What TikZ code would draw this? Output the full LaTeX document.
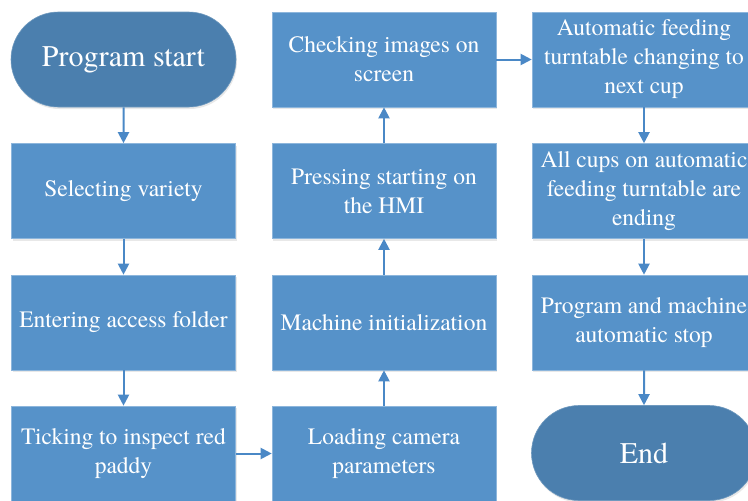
\documentclass[tikz,border=0pt]{standalone}
\usepackage{fontspec}
\setmainfont{TeX Gyre Termes}
\usetikzlibrary{arrows.meta,shapes.misc,shadows}
\definecolor{boxblue}{HTML}{5692C9}
\definecolor{termblue}{HTML}{4B7FAE}
\definecolor{linkblue}{HTML}{4A88C6}
\definecolor{edgeblue}{HTML}{8DB6DC}
\tikzset{
  stepbox/.style={rectangle, fill=boxblue, draw=edgeblue, line width=0.6pt,
    minimum width=224pt, minimum height=95pt, inner sep=0pt,
    text=white, align=center,
    font=\fontsize{23.5}{29}\selectfont,
    drop shadow={opacity=0.18, shadow xshift=1pt, shadow yshift=-2pt}},
  termbox/.style={rounded rectangle, fill=termblue, draw=termblue!80!white, line width=0.6pt,
    minimum width=225pt, minimum height=95pt, inner sep=0pt,
    text=white, align=center,
    font=\fontsize{30}{36}\selectfont,
    drop shadow={opacity=0.18, shadow xshift=1pt, shadow yshift=-2pt}},
  link/.style={draw=linkblue, line width=2pt,
    -{Triangle[width=11pt,length=11pt]}}
}
\begin{document}
\begin{tikzpicture}[x=1pt,y=-1pt]
\useasboundingbox (0,0) rectangle (748,501);
\node[termbox] (start) at (123.5,59.5) {Program start};
\node[stepbox] (sel)   at (123.5,191)   {Selecting variety};
\node[stepbox] (ent)   at (123.5,322.5) {Entering access folder};
\node[stepbox] (tick)  at (123.5,453.5) {Ticking to inspect red\\paddy};
\node[stepbox] (load)  at (384,453.5)   {Loading camera\\parameters};
\node[stepbox] (init)  at (384,322.5)   {Machine initialization};
\node[stepbox] (press) at (384,191)     {Pressing starting on\\the HMI};
\node[stepbox] (check) at (384,59.5)    {Checking images on\\screen};
\node[stepbox] (auto)  at (644,59.5)    {Automatic feeding\\turntable changing to\\next cup};
\node[stepbox] (all)   at (644,191)     {All cups on automatic\\feeding turntable are\\ending};
\node[stepbox] (prog)  at (644,322.5)   {Program and machine\\automatic stop};
\node[termbox] (end)   at (644,453)     {End};
\draw[link] (start) -- (sel);
\draw[link] (sel) -- (ent);
\draw[link] (ent) -- (tick);
\draw[link] (tick) -- (load);
\draw[link] (load) -- (init);
\draw[link] (init) -- (press);
\draw[link] (press) -- (check);
\draw[link] (check) -- (auto);
\draw[link] (auto) -- (all);
\draw[link] (all) -- (prog);
\draw[link] (prog) -- (end);
\end{tikzpicture}
\end{document}
